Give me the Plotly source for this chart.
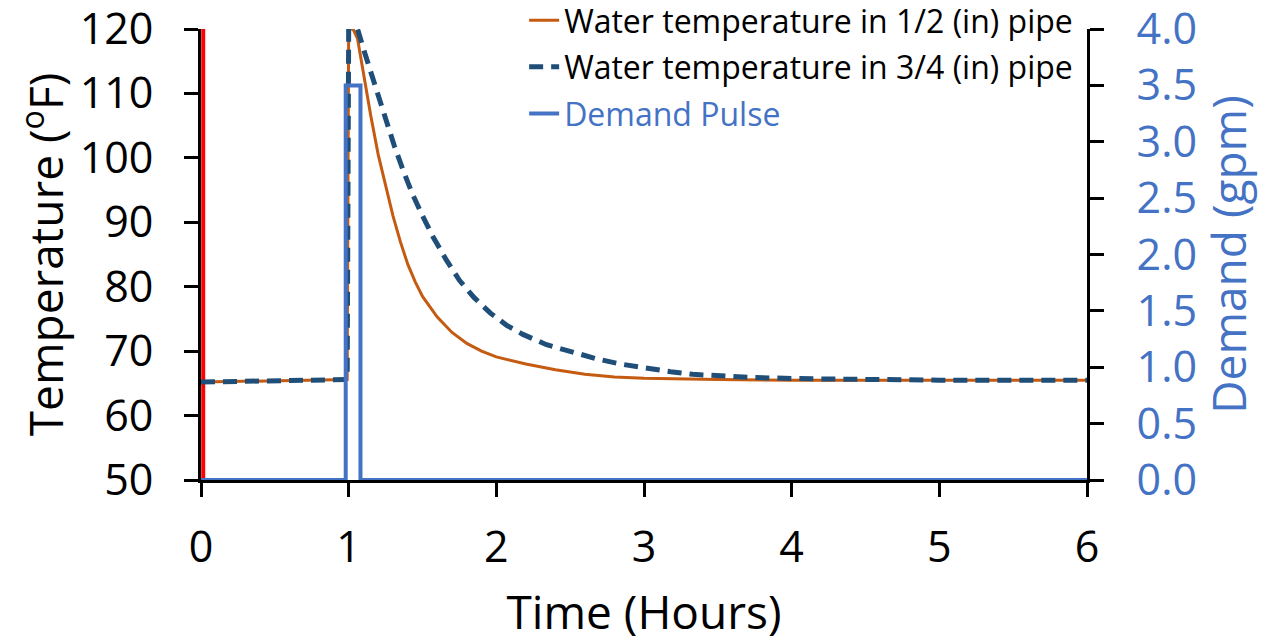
import plotly.graph_objects as go

# ---- data ----
hours_half = [0, 0.5, 0.99, 1.0, 1.03, 1.06, 1.1, 1.15, 1.2, 1.25, 1.3, 1.35, 1.4, 1.45,
              1.5, 1.6, 1.7, 1.8, 1.9, 2.0, 2.1, 2.2, 2.4, 2.6, 2.8, 3.0, 3.5, 4.0, 5, 6]
temp_half = [65.2, 65.4, 65.6, 120, 120, 118.5, 113, 106.5, 100.5, 95.5, 91, 87, 83.5, 80.8,
             78.5, 75.3, 72.9, 71.2, 70.0, 69.1, 68.5, 68.0, 67.1, 66.4, 66.0, 65.8, 65.6, 65.5, 65.5, 65.5]

hours_3q = [0, 0.5, 0.99, 1.0, 1.06, 1.11, 1.16, 1.21, 1.26, 1.31, 1.37, 1.43, 1.5, 1.57,
            1.66, 1.75, 1.85, 1.96, 2.07, 2.18, 2.34, 2.5, 2.68, 2.84, 3.02, 3.18, 3.33,
            3.51, 3.74, 4.14, 4.5, 5, 6]
temp_3q = [65.2, 65.4, 65.6, 120, 120, 116.2, 112.5, 109, 105.2, 101.8, 98, 94.5, 91, 87.8,
           84.2, 81, 78.3, 75.9, 74, 72.6, 71.0, 69.9, 68.8, 68.0, 67.3, 66.8, 66.4,
           66.1, 65.9, 65.7, 65.6, 65.5, 65.5]

hours_pulse = [0, 0.98, 0.98, 1.08, 1.08, 6]
demand_pulse = [0, 0, 3.5, 3.5, 0, 0]

marker_hours = [0.015, 0.015]
marker_temp = [50, 120]

temp_ticks = [50, 60, 70, 80, 90, 100, 110, 120]
demand_ticks = [0, 0.5, 1.0, 1.5, 2.0, 2.5, 3.0, 3.5, 4.0]
hour_ticks = [0, 1, 2, 3, 4, 5, 6]

ORANGE = "#C55A11"
DARKBLUE = "#1F4E79"
BLUE = "#4472C4"
FONT = "Open Sans"

fig = go.Figure()
fig.add_trace(go.Scatter(x=marker_hours, y=marker_temp, mode="lines",
                         line=dict(color="#FF0000", width=4), showlegend=False,
                         hoverinfo="skip"))
fig.add_trace(go.Scatter(x=hours_half, y=temp_half, mode="lines",
                         name="Water temperature in 1/2 (in) pipe", legendgroup="a",
                         line=dict(color=ORANGE, width=3)))
fig.add_trace(go.Scatter(x=hours_3q, y=temp_3q, mode="lines",
                         name="Water temperature in 3/4 (in) pipe", legendgroup="b",
                         line=dict(color=DARKBLUE, width=5, dash="14px,8px")))
fig.add_trace(go.Scatter(x=hours_pulse, y=demand_pulse, mode="lines", yaxis="y2",
                         name='<span style="color:%s">Demand Pulse</span>' % BLUE,
                         legendgroup="c",
                         line=dict(color=BLUE, width=4)))

axis_common = dict(showgrid=False, zeroline=False, showline=True, linecolor="black",
                   linewidth=3, ticks="outside", ticklen=14, tickwidth=3,
                   tickcolor="black", ticklabeloverflow="allow")

fig.update_layout(
    width=1266, height=642,
    margin=dict(l=201, r=179, t=29, b=162, autoexpand=False),
    paper_bgcolor="white", plot_bgcolor="white",
    font=dict(family=FONT, color="black"),
    xaxis=dict(range=[0, 6], tickvals=hour_ticks, tickfont=dict(size=43),
               ticklabelstandoff=13,
               title=dict(text="Time (Hours)", font=dict(size=46), standoff=26),
               **axis_common),
    yaxis=dict(range=[50, 120], tickvals=temp_ticks, tickfont=dict(size=43),
               ticklabelstandoff=22,
               title=dict(text="Temperature (<sup>o</sup>F)", font=dict(size=46), standoff=2),
               **axis_common),
    yaxis2=dict(range=[0, 4], tickvals=demand_ticks, tickformat=".1f", overlaying="y",
                side="right", tickfont=dict(size=43, color=BLUE),
                ticklabelstandoff=24,
                title=dict(text="Demand (gpm)", font=dict(size=46, color=BLUE), standoff=18),
                **axis_common),
    legend=dict(x=0.99, xanchor="right", y=1.08, yanchor="top",
                bgcolor="rgba(0,0,0,0)", font=dict(size=32, family=FONT),
                traceorder="grouped", tracegroupgap=2),
)

fig.write_html("out.html", config={"displayModeBar": False},
               post_script="document.body.style.margin='0';")
